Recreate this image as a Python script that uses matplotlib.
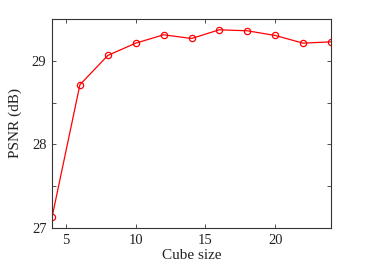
import matplotlib
matplotlib.use('Agg')
import matplotlib.pyplot as plt
import numpy as np

# datos
cube_size = [4, 6, 8, 10, 12, 14, 16, 18, 20, 22, 24]
psnr = [27.127, 28.713, 29.064, 29.211, 29.311, 29.267, 29.371, 29.359, 29.303, 29.211, 29.227]
xticks = [5, 10, 15, 20]
yticks = [27, 27.5, 28, 28.5, 29, 29.5]
ylabels = ['27', '', '28', '', '29', '']

plt.rcParams['font.family'] = ['Liberation Serif', 'DejaVu Serif']
plt.rcParams['font.size'] = 10.5

fig = plt.figure(figsize=(3.65, 2.64), dpi=100)
ax = fig.add_axes([52 / 365, 1 - 228 / 264, (331 - 52) / 365, (228 - 19) / 264])

ax.plot(cube_size, psnr, color='red', lw=0.9, marker='o', ms=4.5,
        mfc='none', mec='red', mew=0.9)

ax.set_xlim(4, 24)
ax.set_ylim(27, 29.5)
ax.set_xticks(xticks)
ax.set_yticks(yticks)
ax.set_yticklabels(ylabels)
ax.tick_params(direction='in', top=True, right=True, length=3, width=0.6,
               labelsize=10.5, colors='#333333', labelcolor='#222222', pad=4)
for s in ax.spines.values():
    s.set_linewidth(0.8)
    s.set_color('#333333')
ax.set_xlabel('Cube size', fontsize=11, labelpad=2, color='#222222')
ax.set_ylabel('PSNR (dB)', fontsize=11, labelpad=7, color='#222222')

fig.savefig('out.png', dpi=100)
